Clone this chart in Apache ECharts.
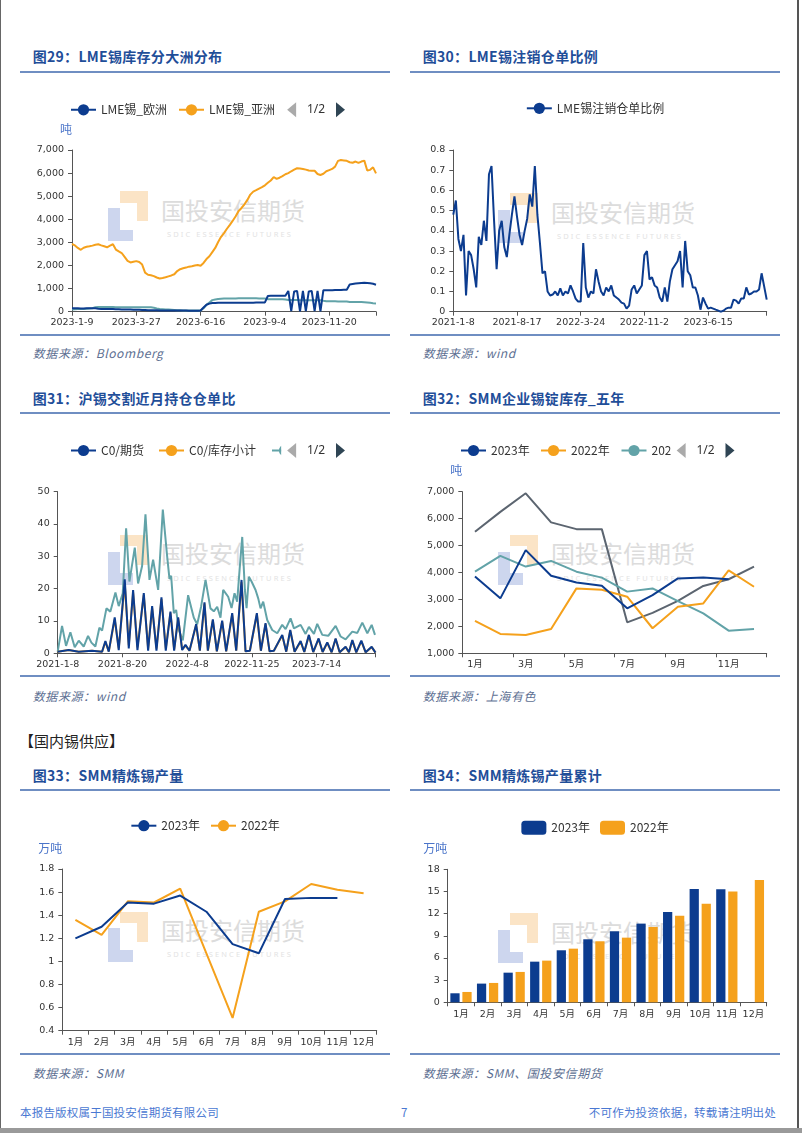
<!DOCTYPE html>
<html><head><meta charset="utf-8">
<script src="https://cdn.jsdelivr.net/npm/echarts@6/dist/echarts.min.js"></script>
<style>
body{margin:0;background:#fff;}
#page{position:relative;width:802px;height:1133px;overflow:hidden;background:#fff;font-family:"Noto Sans CJK SC",sans-serif;}
.t{position:absolute;white-space:nowrap;line-height:1;}
.title{font-size:14px;font-weight:700;color:#1f4e99;letter-spacing:0.3px;}
.rule{position:absolute;height:2px;background:#6f8ec2;}
.src{font-size:12px;font-style:italic;color:#5d6f92;letter-spacing:0.6px;}
.chart{position:absolute;width:370px;height:250px;}
.wmb{position:absolute;background:#cdd6ee;}
.wmo{position:absolute;background:#fbe4c6;}
.wmt{position:absolute;white-space:nowrap;line-height:1;font-family:"Noto Sans CJK SC",sans-serif;font-size:24px;color:#dcdcdc;}
.wms{position:absolute;white-space:nowrap;line-height:1;font-family:"Noto Sans",sans-serif;font-size:7.5px;letter-spacing:2.1px;color:#e3e3e3;}
.foot{font-size:11.5px;color:#4a78d2;letter-spacing:0.2px;}
</style></head>
<body>
<div id="page">
  <div id="wm"></div>
  <div class="t title" style="left:32.7px;top:48.7px;">图29：LME锡库存分大洲分布</div>
  <div class="t title" style="left:422.7px;top:48.7px;">图30：LME锡注销仓单比例</div>
  <div class="rule" style="left:20px;top:70.7px;width:370px;"></div>
  <div class="rule" style="left:410px;top:70.7px;width:370px;"></div>
  <div class="rule" style="left:20px;top:334px;width:370px;"></div>
  <div class="rule" style="left:410px;top:334px;width:370px;"></div>
  <div class="t src" style="left:32.7px;top:347px;">数据来源：Bloomberg</div>
  <div class="t src" style="left:422.7px;top:347px;">数据来源：wind</div>

  <div class="t title" style="left:32.7px;top:390.7px;">图31：沪锡交割近月持仓仓单比</div>
  <div class="t title" style="left:422.7px;top:390.7px;">图32：SMM企业锡锭库存_五年</div>
  <div class="rule" style="left:20px;top:411.7px;width:370px;"></div>
  <div class="rule" style="left:410px;top:411.7px;width:370px;"></div>
  <div class="rule" style="left:20px;top:675px;width:370px;"></div>
  <div class="rule" style="left:410px;top:675px;width:370px;"></div>
  <div class="t src" style="left:32.7px;top:689.7px;">数据来源：wind</div>
  <div class="t src" style="left:422.7px;top:689.7px;">数据来源：上海有色</div>

  <div class="t" style="left:19px;top:732.5px;font-size:15px;color:#222;">【国内锡供应】</div>
  <div class="t title" style="left:32.7px;top:768px;">图33：SMM精炼锡产量</div>
  <div class="t title" style="left:422.7px;top:768px;">图34：SMM精炼锡产量累计</div>
  <div class="rule" style="left:20px;top:789.3px;width:370px;"></div>
  <div class="rule" style="left:410px;top:789.3px;width:370px;"></div>
  <div class="rule" style="left:20px;top:1052.5px;width:370px;"></div>
  <div class="rule" style="left:410px;top:1052.5px;width:370px;"></div>
  <div class="t src" style="left:32.7px;top:1067.3px;">数据来源：SMM</div>
  <div class="t src" style="left:422.7px;top:1067.3px;">数据来源：SMM、国投安信期货</div>

  <div class="t foot" style="left:20px;top:1107px;">本报告版权属于国投安信期货有限公司</div>
  <div class="t foot" style="left:401px;top:1107px;">7</div>
  <div class="t foot" style="right:26px;top:1107px;">不可作为投资依据，转载请注明出处</div>

  <div style="position:absolute;left:0;top:0;width:1px;height:1133px;background:#666;"></div>
  <div style="position:absolute;left:797px;top:0;width:1.5px;height:1133px;background:#555;"></div>
  <div style="position:absolute;left:0;top:1128px;width:802px;height:5px;background:#9a9a9a;"></div>

  <div id="c29" class="chart" style="left:20px;top:90px;"></div>
  <div id="c30" class="chart" style="left:410px;top:90px;"></div>
  <div id="c31" class="chart" style="left:20px;top:430px;"></div>
  <div id="c32" class="chart" style="left:410px;top:430px;"></div>
  <div id="c33" class="chart" style="left:20px;top:805px;"></div>
  <div id="c34" class="chart" style="left:410px;top:805px;"></div>
</div>
<script>
// ---------------- DATA ----------------
// 图29 (half-week samples, 22 per label step)
const c29Ticks = ['2023-1-9','2023-3-27','2023-6-16','2023-9-4','2023-11-20'];
const c29Names = ['LME锡_欧洲','LME锡_亚洲','LME锡_美洲'];
const c29Europe = [150,150,150,140,140,150,150,150,150,130,
  120,120,120,120,120,110,110,100,100,100,
  90,80,80,80,70,70,60,60,60,60,
  50,50,50,50,50,50,50,50,50,50,
  40,40,40,40,50,180,300,350,380,380,
  390,390,390,390,390,390,390,390,390,390,
  390,390,390,400,400,400,400,680,690,690,
  690,690,690,690,900,30,880,900,20,900,
  30,880,900,30,900,20,930,930,930,930,
  940,940,940,950,950,1180,1200,1220,1230,1240,
  1250,1240,1230,1210,1170];
const c29Asia = [2930,2870,2760,2680,2770,2810,2830,2860,2900,2920,
  2870,2830,2790,2860,2920,2690,2610,2540,2370,2200,
  2130,2160,2190,2150,2040,1690,1600,1580,1540,1480,
  1440,1460,1490,1530,1570,1620,1760,1840,1880,1910,
  1950,1970,2000,2020,1990,2110,2280,2400,2580,2760,
  3020,3240,3400,3590,3760,3940,4130,4360,4490,4650,
  4840,5070,5200,5260,5330,5390,5470,5580,5680,5830,
  5750,5800,5870,5950,6000,6080,6150,6210,6200,6180,
  6150,6110,6100,6100,5960,5920,5970,6080,6130,6180,
  6280,6530,6570,6550,6530,6470,6450,6500,6440,6500,
  6540,6110,6140,6250,5990];
const c29America = [100,110,120,120,120,130,140,150,190,200,
  200,200,200,200,200,190,190,190,190,190,
  190,190,190,190,190,190,190,190,170,140,
  120,110,100,90,80,70,60,60,50,50,
  50,50,50,50,50,150,300,400,500,530,
  550,560,570,570,570,575,575,580,580,580,
  580,580,580,580,575,575,570,540,540,540,
  540,540,540,530,510,510,505,505,500,500,
  500,500,500,500,500,500,470,455,450,450,
  450,445,445,440,440,420,420,420,415,415,
  410,400,385,370,360];

// 图30 (25 samples per label step)
const c30Ticks = ['2021-1-8','2021-8-17','2022-3-24','2022-11-2','2023-6-15'];
const c30Ratio = [0.48,0.55,0.36,0.30,0.38,0.08,0.30,0.28,0.21,0.12,
  0.37,0.33,0.45,0.35,0.68,0.72,0.45,0.21,0.40,0.45,
  0.32,0.27,0.38,0.48,0.57,0.47,0.38,0.33,0.40,0.46,
  0.58,0.52,0.72,0.48,0.34,0.19,0.20,0.10,0.08,0.085,
  0.10,0.08,0.115,0.08,0.10,0.09,0.13,0.10,0.065,0.05,
  0.05,0.34,0.12,0.07,0.10,0.09,0.21,0.15,0.10,0.08,
  0.12,0.10,0.13,0.08,0.07,0.06,0.045,0.04,0.015,0.03,
  0.11,0.13,0.09,0.11,0.13,0.28,0.30,0.16,0.17,0.13,
  0.12,0.07,0.05,0.12,0.05,0.15,0.21,0.23,0.25,0.30,
  0.12,0.35,0.20,0.18,0.12,0.12,0.08,0.01,0.07,0.04,
  0.015,0.02,0.015,0.01,0.005,0.0,0.005,0.015,0.02,0.02,
  0.06,0.055,0.04,0.065,0.065,0.12,0.085,0.09,0.10,0.10,
  0.11,0.19,0.125,0.06];

// 图31 (position in trading-day units, 100 per label step)
const c31Ticks = ['2021-1-8','2021-8-20','2022-4-8','2022-11-25','2023-7-14'];
const c31Names = ['C0/期货','C0/库存小计','C0/仓单'];
const c31T = [0,17,32.5,53,68.6,73.7,78.9,88.1,94.3,103.6,
  109.8,116.5,123.2,133,139.7,145.9,152.6,160.3,167,174.2,
  179.9,186.1,192.3,197.4,203.6,213.9,219.6,226.8,232,239.7,
  245.9,254.1,260.3,269.6,275.8,284,290.2,296.9,307.7,313.9,
  321.1,327.3,334,346.9,353.1,359.3,366,375.3,381,388.1,
  394.8,403.1,409.3,416.5,423.2,429.4,435.6,444.8,450,455.2,
  461.3,469.1,475.8,485.1,491];
const c31Futures = [0.5,1.0,0.5,0.8,0.5,3.8,0.5,11.1,1.0,22.9,
  1.5,19.6,1.0,18.6,0.8,14.6,0.8,17.3,0.8,12.9,
  0.8,11.1,1.0,2.6,0.8,9.0,0.8,15.8,0.8,10.5,
  0.6,10.1,0.6,12.4,0.8,22.7,0.6,0.8,12.4,0.8,
  9.3,0.6,0.8,5.7,0.5,7.2,0.5,3.8,0.4,5.7,
  0.4,4.6,0.4,3.4,0.3,4.6,0.3,2.0,0.3,4.1,
  0.3,3.9,0.3,2.0,0.2];
const c31Stock = [0.5,1.0,0.5,0.8,0.5,3.5,0.6,10.5,1.5,21.5,
  2.5,18.8,1.8,18.0,1.5,14.0,1.5,16.8,1.5,12.5,
  1.2,10.8,1.2,2.4,0.8,8.8,0.8,15.4,0.8,10.2,
  0.6,9.8,0.6,12.0,0.8,22.0,0.6,0.8,12.0,0.8,
  9.0,0.6,0.8,5.5,0.5,7.0,0.5,3.6,0.4,5.5,
  0.4,4.4,0.4,3.2,0.3,4.4,0.3,1.9,0.3,3.9,
  0.3,3.7,0.3,1.9,0.2];
const c31WrT = [0,6.7,12.9,19.6,26.3,32.5,40.2,46.9,52.1,58.2,
  64.4,68.6,75.3,81.4,89.2,94.3,100.5,105.7,110.8,119.1,
  124.2,130.4,135.6,141.8,147.4,155.2,162.4,169.1,172.7,175.3,
  179.4,183,187.1,193.3,201.5,205.2,210.3,215.5,221.6,228.4,
  236,241.2,246.4,251.5,255.7,263.4,268.6,273.2,277.3,281,
  285.1,289.2,291.8,295.4,299.5,305.7,309.8,313.4,317.5,323.7,
  331.4,339.2,346.9,352.1,359.8,365,375.3,383,388.1,395.9,
  401,408.8,418,429.4,437.1,444.8,455.2,462.9,470.6,478.4,
  485.1,490.2];
const c31Receipt = [0.5,8.5,2.3,6.5,1.9,3.9,2.1,5.4,3.3,2.1,
  7.9,7.0,13.9,12.9,18.8,14.6,18.6,38.7,22.2,32.7,
  21.6,27,43,22.7,29,19.6,44.5,30,23,24,
  12.4,13.4,7.2,4,18,15,11,9,14.5,22.7,
  13.9,13,14.4,11,19.6,17.5,14,18.6,16,25.8,
  36,19.6,14,23.7,22.2,19.6,17,13.9,16,10.3,
  7.2,6.2,8.8,7.5,10.8,7.7,8.8,6,8.2,6,
  9.1,5.7,5.4,8.5,5.2,4.3,6.7,6.3,9.5,6.2,
  8.8,5.7];

// 图32-34
const months = ['1月','2月','3月','4月','5月','6月','7月','8月','9月','10月','11月','12月'];
const c32Names = ['2023年','2022年','2021年','2020年'];
const c32Y2023 = [3850,3040,4830,3880,3630,3510,2670,3160,3780,3810,3750];
const c32Y2022 = [2200,1720,1680,1900,3410,3360,3100,1930,2730,2850,4080,3470];
const c32Y2021 = [4030,4620,4220,4430,4030,3810,3290,3410,2940,2480,1840,1900];
const c32Y2020 = [5510,6250,6940,5860,5610,5610,2150,2500,2950,3500,3750,4220];
const c33Y2023 = [1.20,1.30,1.51,1.50,1.57,1.43,1.15,1.07,1.54,1.55,1.55];
const c33Y2022 = [1.36,1.23,1.52,1.51,1.63,1.07,0.51,1.43,1.52,1.67,1.62,1.59];
const c34Y2023 = [1.22,2.53,4.01,5.50,7.04,8.53,9.61,10.65,12.23,15.34,15.29];
const c34Y2022 = [1.40,2.62,4.11,5.64,7.26,8.26,8.75,10.20,11.73,13.35,14.98,16.56];

// ---------------- STYLE ----------------
const BLUE='#0c3c8f', ORANGE='#f5a11c', TEAL='#62a3a8', GRAY='#5c6570', AXC='#555';
const LBL = {fontFamily:'DejaVu Sans, Noto Sans CJK SC, sans-serif', fontSize:9.5, color:'#333'};
const NAME_STYLE = {color:'#4a74c9', fontSize:12, fontFamily:'Noto Sans CJK SC', align:'center', verticalAlign:'bottom'};

// watermarks (decoration)
(function(){
  const host = document.getElementById('wm');
  const offs = [[0,0],[390,2],[0,343.5],[390,343.5],[0,720.3],[390,722]];
  offs.forEach(([dx,dy])=>{
    const add=(cls,x,y,w,h,txt)=>{const d=document.createElement('div');d.className=cls;
      d.style.left=(x+dx)+'px';d.style.top=(y+dy)+'px';
      if(w!=null){d.style.width=w+'px';d.style.height=h+'px';}
      if(txt)d.textContent=txt;host.appendChild(d);};
    add('wmb',108.3,208,11.7,33.3);
    add('wmb',108.3,229.7,25,11.6);
    add('wmo',120,191.3,28.3,11.7);
    add('wmo',136.7,191.3,11.6,30);
    add('wmt',161,197.7,null,null,'国投安信期货');
    add('wms',167,231,null,null,'SDIC ESSENCE FUTURES');
  });
})();

// scroll legend whose item text boxes have the widths seen in the reference
function scrollLegend(names, widths, extra){
  const rich = {};
  widths.forEach((w,k)=>{ rich['w'+k] = {width:w, height:14, fontSize:12, color:'#333',
    fontFamily:'Noto Sans CJK SC', backgroundColor:'rgba(255,255,255,0.01)'}; });
  return Object.assign({type:'scroll',orient:'horizontal',padding:0,itemWidth:25,itemHeight:14,itemGap:10,
    data:names,
    formatter:function(n){ return '{w'+names.indexOf(n)+'|'+n+'}'; },
    textStyle:{fontSize:12,color:'#333',fontFamily:'Noto Sans CJK SC',rich:rich},
    pageIconColor:'#2f4554',pageIconInactiveColor:'#aaa',pageIconSize:15,pageButtonItemGap:5,pageButtonGap:6,
    pageTextStyle:{color:'#333',fontSize:12,fontFamily:'Noto Sans'}},extra);
}
function plainLegend(extra){
  return Object.assign({type:'plain',orient:'horizontal',padding:0,itemWidth:25,itemHeight:14,itemGap:10,
    textStyle:{fontSize:12,color:'#333',fontFamily:'Noto Sans CJK SC'}},extra);
}
function idxAxis(max, step, labels){
  return {type:'value',min:0,max:max,interval:step,splitLine:{show:false},
    axisLine:{show:true,lineStyle:{color:AXC}},axisTick:{show:true,length:4,lineStyle:{color:AXC}},
    axisLabel:Object.assign({},LBL,{margin:6,formatter:function(v){const k=Math.round(v/step);
      return (Math.abs(v-k*step)<1e-6 && labels[k]!==undefined)?labels[k]:'';}})};
}
function valAxis(min,max,step,name,padRight,extraLbl){
  const a={type:'value',min:min,max:max,interval:step,splitLine:{show:false},
    axisLine:{show:true,lineStyle:{color:AXC}},axisTick:{show:true,length:4,lineStyle:{color:AXC}},
    axisLabel:Object.assign({},LBL,{margin:8},extraLbl||{})};
  if(name){a.name=name;a.nameLocation='end';a.nameGap=15;
    a.nameTextStyle=Object.assign({},NAME_STYLE,{padding:[0,padRight,0,0]});}
  return a;
}
function catAxis(labelInterval,margin){
  return {type:'category',data:months,boundaryGap:true,splitLine:{show:false},
    axisLine:{show:true,lineStyle:{color:AXC}},axisTick:{show:true,length:4,lineStyle:{color:AXC}},
    axisLabel:Object.assign({},LBL,{margin:margin,interval:labelInterval})};
}
function line(name,color,data,z){
  return {name:name,type:'line',data:data,showSymbol:false,symbol:'circle',z:z||2,
    lineStyle:{width:2,color:color},itemStyle:{color:color},emphasis:{disabled:true}};
}
const idx = arr => arr.map((v,i)=>[i,v]);
const pairs = (t,v) => t.map((x,k)=>[x,v[k]]);
const G = o => Object.assign({containLabel:false,outerBoundsMode:'none'},o);

// 图29
echarts.init(document.getElementById('c29')).setOption({
  animation:false,
  grid:G({left:52,top:60,width:304,height:161.7}),
  legend:scrollLegend(c29Names,[67,67,67],{left:50,top:12.3,width:275}),
  xAxis:idxAxis(104,22,c29Ticks),
  yAxis:valAxis(0,7000,1000,'吨',12),
  series:[line(c29Names[0],BLUE,idx(c29Europe),4),line(c29Names[1],ORANGE,idx(c29Asia),3),line(c29Names[2],TEAL,idx(c29America),2)]
});
// 图30
echarts.init(document.getElementById('c30')).setOption({
  animation:false,
  grid:G({left:43.3,top:60,width:313.4,height:161.7}),
  legend:plainLegend({left:'center',top:12.3}),
  xAxis:idxAxis(123,25,c30Ticks),
  yAxis:valAxis(0,0.8,0.1),
  series:[line('LME锡注销仓单比例',BLUE,idx(c30Ratio))]
});
// 图31
echarts.init(document.getElementById('c31')).setOption({
  animation:false,
  grid:G({left:37.7,top:61.7,width:317.8,height:161.6}),
  legend:scrollLegend(c31Names,[47,72,47],{left:50,top:13,width:275}),
  xAxis:idxAxis(491,100,c31Ticks),
  yAxis:valAxis(0,50,10),
  series:[line(c31Names[2],TEAL,pairs(c31WrT,c31Receipt),2),line(c31Names[1],ORANGE,pairs(c31T,c31Stock),3),line(c31Names[0],BLUE,pairs(c31T,c31Futures),4)]
});
// 图32
echarts.init(document.getElementById('c32')).setOption({
  animation:false,
  grid:G({left:52.3,top:61.7,width:304.4,height:161.6}),
  legend:scrollLegend(c32Names,[39,39.5,41,41],{left:50,top:13,width:274.5}),
  xAxis:catAxis(1,6),
  yAxis:valAxis(1000,7000,1000,'吨',12),
  series:[line(c32Names[3],GRAY,c32Y2020,2),line(c32Names[2],TEAL,c32Y2021,3),line(c32Names[1],ORANGE,c32Y2022,4),line(c32Names[0],BLUE,c32Y2023,5)]
});
// 图33
echarts.init(document.getElementById('c33')).setOption({
  animation:false,
  grid:G({left:42.3,top:64,width:314.4,height:161.7}),
  legend:plainLegend({left:'center',top:14.7,data:['2023年','2022年']}),
  xAxis:catAxis(0,7),
  yAxis:valAxis(0.4,1.8,0.2,'万吨',24),
  series:[line('2023年',BLUE,c33Y2023,3),line('2022年',ORANGE,c33Y2022,2)]
});
// 图34
echarts.init(document.getElementById('c34')).setOption({
  animation:false,
  grid:G({left:37.7,top:64.3,width:319,height:133}),
  legend:plainLegend({left:'center',top:15.7,data:['2023年','2022年']}),
  xAxis:catAxis(0,7),
  yAxis:valAxis(0,18,3,'万吨',25),
  series:[
    {name:'2023年',type:'bar',data:c34Y2023,itemStyle:{color:BLUE},barGap:'30%',barCategoryGap:'20%'},
    {name:'2022年',type:'bar',data:c34Y2022,itemStyle:{color:ORANGE},barGap:'30%',barCategoryGap:'20%'}
  ]
});
</script>
</body></html>
